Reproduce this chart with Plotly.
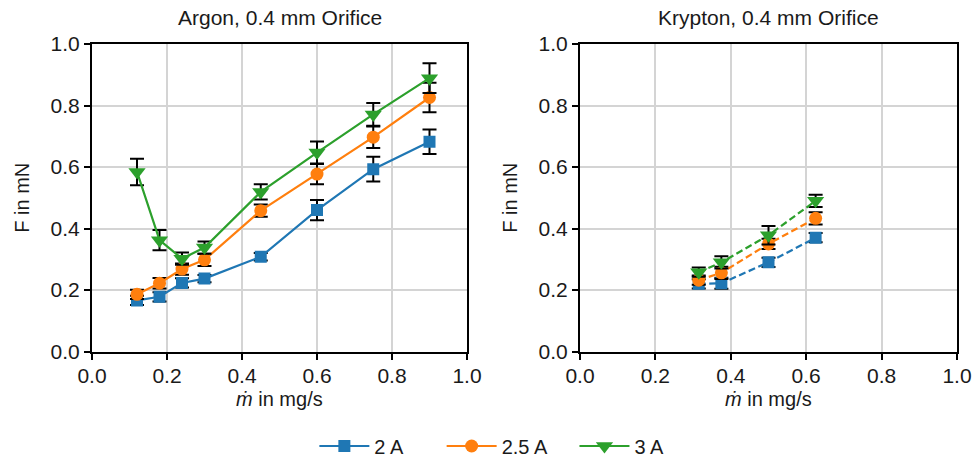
import plotly.graph_objects as go

# ---------------- data ----------------
argon_mdot = [0.12, 0.18, 0.24, 0.30, 0.45, 0.60, 0.75, 0.90]
argon_2A = [0.166, 0.178, 0.223, 0.237, 0.308, 0.460, 0.593, 0.682]
argon_2A_err = [0.015, 0.015, 0.015, 0.012, 0.012, 0.033, 0.040, 0.040]
argon_25A = [0.186, 0.222, 0.268, 0.298, 0.458, 0.577, 0.697, 0.826]
argon_25A_err = [0.015, 0.017, 0.018, 0.020, 0.020, 0.033, 0.035, 0.048]
argon_3A = [0.584, 0.362, 0.302, 0.338, 0.519, 0.647, 0.771, 0.889]
argon_3A_err = [0.043, 0.033, 0.020, 0.020, 0.025, 0.036, 0.037, 0.048]

krypton_mdot = [0.315, 0.375, 0.50, 0.625]
krypton_2A = [0.220, 0.222, 0.290, 0.370]
krypton_2A_err = [0.015, 0.018, 0.015, 0.015]
krypton_25A = [0.232, 0.256, 0.350, 0.433]
krypton_25A_err = [0.015, 0.020, 0.017, 0.020]
krypton_3A = [0.258, 0.290, 0.378, 0.490]
krypton_3A_err = [0.015, 0.020, 0.030, 0.020]

series_names = ["2 A", "2.5 A", "3 A"]
colors = ["#1f77b4", "#ff7f0e", "#2ca02c"]
symbols = ["square", "circle", "triangle-down"]
marker_sizes = [12, 13, 15]

titles = ["Argon, 0.4 mm Orifice", "Krypton, 0.4 mm Orifice"]
x_title = "<i>ṁ</i> in mg/s"
y_title = "F in mN"
tick_vals = [0.0, 0.2, 0.4, 0.6, 0.8, 1.0]
tick_text = ["0.0", "0.2", "0.4", "0.6", "0.8", "1.0"]

FONT = "Liberation Sans, Arial, sans-serif"
TXT = "#1a1a1a"
NBSP = "\u00a0"
legend_pad = [6, 4, 0]  # trailing spacing between legend entries

fig = go.Figure()

argon_sets = [(argon_2A, argon_2A_err), (argon_25A, argon_25A_err), (argon_3A, argon_3A_err)]
krypton_sets = [(krypton_2A, krypton_2A_err), (krypton_25A, krypton_25A_err), (krypton_3A, krypton_3A_err)]

for i, (vals, errs) in enumerate(argon_sets):
    fig.add_trace(go.Scatter(
        x=argon_mdot, y=vals, name=series_names[i] + NBSP * legend_pad[i],
        mode="lines+markers",
        line=dict(color=colors[i], width=2.2),
        marker=dict(symbol=symbols[i], size=marker_sizes[i], color=colors[i]),
        error_y=dict(type="data", array=errs, visible=True, color="black",
                     thickness=2, width=7),
        xaxis="x", yaxis="y", showlegend=True, legendrank=i + 1,
    ))

for i, (vals, errs) in enumerate(krypton_sets):
    fig.add_trace(go.Scatter(
        x=krypton_mdot, y=vals, name=series_names[i], mode="lines+markers",
        line=dict(color=colors[i], width=2.2, dash="7px,3.5px"),
        marker=dict(symbol=symbols[i], size=marker_sizes[i], color=colors[i]),
        error_y=dict(type="data", array=errs, visible=True, color="black",
                     thickness=2, width=7),
        xaxis="x2", yaxis="y2", showlegend=False,
    ))

W, H = 974, 457
left_dom = [92 / W, 467 / W]
right_dom = [580 / W, 957 / W]
y_dom = [1 - 351.5 / H, 1 - 44 / H]

axis_common = dict(
    range=[0, 1], tickmode="array", tickvals=tick_vals, ticktext=tick_text,
    showline=True, linecolor="black", linewidth=2, mirror=True,
    ticks="outside", ticklen=6, tickwidth=2, tickcolor="black",
    showgrid=True, gridcolor="#d4d4d4", gridwidth=1.5,
    zeroline=False, tickfont=dict(family=FONT, size=21, color=TXT),
    fixedrange=True, automargin=False,
)

fig.update_layout(
    width=W, height=H,
    margin=dict(l=0, r=0, t=0, b=0, autoexpand=False),
    paper_bgcolor="white", plot_bgcolor="white",
    font=dict(family=FONT, size=20, color=TXT),
    xaxis=dict(domain=left_dom, anchor="y", ticklabelstandoff=-2, **axis_common),
    yaxis=dict(domain=y_dom, anchor="x", **axis_common),
    xaxis2=dict(domain=right_dom, anchor="y2", ticklabelstandoff=-2, **axis_common),
    yaxis2=dict(domain=y_dom, anchor="x2", **axis_common),
    legend=dict(orientation="h", x=0.505, xanchor="center", y=1 - 446 / H, yanchor="middle",
                font=dict(family=FONT, size=20, color=TXT),
                itemwidth=50,
                bgcolor="rgba(0,0,0,0)"),
    showlegend=True,
)

for i, t in enumerate(titles):
    dom = left_dom if i == 0 else right_dom
    mid = (dom[0] + dom[1]) / 2
    fig.add_annotation(
        text=t, xref="paper", yref="paper",
        x=mid, y=1 - 18 / H, xanchor="center", yanchor="middle",
        showarrow=False, font=dict(family=FONT, size=21, color=TXT),
    )
    fig.add_annotation(
        text=x_title, xref="paper", yref="paper",
        x=mid, y=1 - 399 / H, xanchor="center", yanchor="middle",
        showarrow=False, font=dict(family=FONT, size=20, color=TXT),
    )
    fig.add_annotation(
        text=y_title, xref="paper", yref="paper", textangle=-90,
        x=(dom[0] * W - 70) / W, y=(y_dom[0] + y_dom[1]) / 2,
        xanchor="center", yanchor="middle",
        showarrow=False, font=dict(family=FONT, size=20, color=TXT),
    )

fig.write_html("out.html")
